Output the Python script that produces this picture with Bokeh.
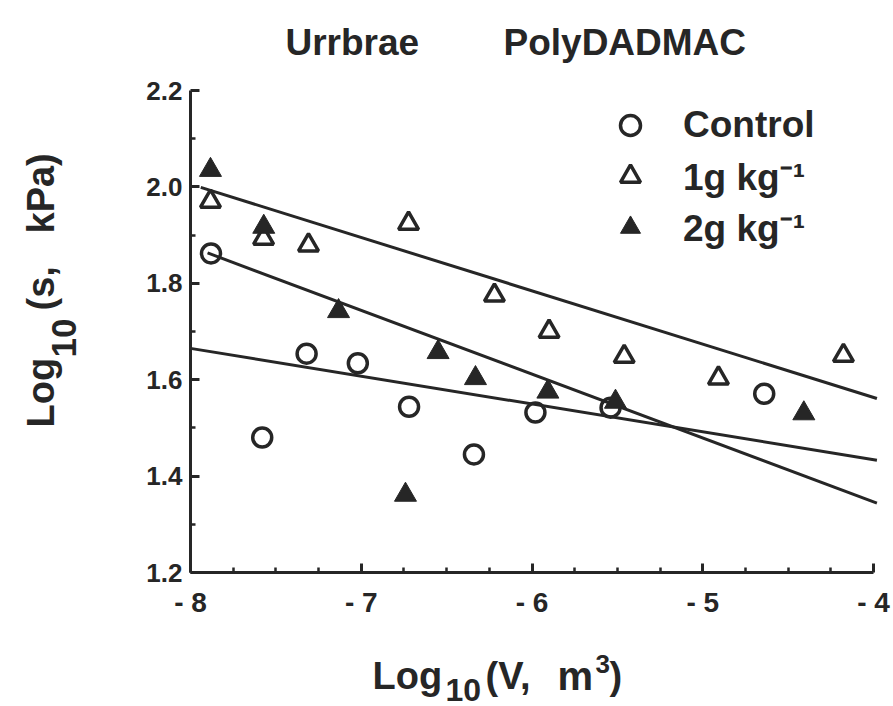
import math
from bokeh.plotting import figure
from bokeh.models import Range1d, FixedTicker, Label, Legend, LegendItem
from bokeh.embed import file_html
from bokeh.resources import INLINE

# ---------------- data ----------------
control_x = [-7.88, -7.58, -7.32, -7.02, -6.72, -6.34, -5.98, -5.54, -4.64]
control_y = [1.862, 1.480, 1.654, 1.634, 1.544, 1.445, 1.532, 1.542, 1.571]

g1_x = [-7.883, -7.572, -7.309, -6.723, -6.22, -5.90, -5.46, -4.908, -4.176]
g1_y = [1.970, 1.893, 1.879, 1.924, 1.775, 1.700, 1.648, 1.603, 1.650]

g2_x = [-7.883, -7.571, -7.133, -6.741, -6.55, -6.331, -5.907, -5.511, -4.408]
g2_y = [2.035, 1.917, 1.742, 1.361, 1.657, 1.603, 1.575, 1.554, 1.530]

# fitted regression lines: start/end x and y
control_fit_x = [-8.0, -3.98]
control_fit_y = [1.665, 1.433]
g1_fit_x = [-7.94, -3.98]
g1_fit_y = [1.999, 1.561]
g2_fit_x = [-7.90, -3.98]
g2_fit_y = [1.863, 1.344]

x_ticks = [-8, -7, -6, -5, -4]
x_tick_labels = ["- 8", "- 7", "- 6", "- 5", "- 4"]
x_minor = [-7.75, -7.5, -7.25, -6.75, -6.5, -6.25, -5.75, -5.5, -5.25, -4.75, -4.5, -4.25]
y_ticks = [1.2, 1.4, 1.6, 1.8, 2.0, 2.2]
y_tick_labels = ["1.2", "1.4", "1.6", "1.8", "2.0", "2.2"]
y_minor = [1.3, 1.5, 1.7, 1.9, 2.1]
x_axis_span = (-8, -4)
y_axis_span = (1.2, 2.2)

legend_labels = ["Control", "1g kg\u207b\u00b9", "2g kg\u207b\u00b9"]

INK = "#262626"
FONT = "Liberation Sans"

W, H = 893, 706
# pixel geometry of the axes box inside the 893x706 canvas
AX_LEFT, AX_RIGHT, AX_TOP, AX_BOTTOM = 190, 873, 90, 572
ppx = (AX_RIGHT - AX_LEFT) / (x_axis_span[1] - x_axis_span[0])
ppy = (AX_BOTTOM - AX_TOP) / (y_axis_span[1] - y_axis_span[0])
x_range = Range1d(x_axis_span[0] - AX_LEFT / ppx, x_axis_span[1] + (W - AX_RIGHT) / ppx)
y_range = Range1d(y_axis_span[0] - (H - AX_BOTTOM) / ppy, y_axis_span[1] + AX_TOP / ppy)

# ---------------- figure ----------------
p = figure(width=W, height=H, output_backend="svg", toolbar_location=None,
           x_range=x_range, y_range=y_range,
           min_border_left=0, min_border_right=0,
           min_border_top=0, min_border_bottom=0)
p.title.visible = False
p.outline_line_color = None
p.xgrid.visible = False
p.ygrid.visible = False
p.background_fill_color = "white"
p.border_fill_color = "white"

p.xaxis.ticker = FixedTicker(ticks=x_ticks, minor_ticks=x_minor)
p.yaxis.ticker = FixedTicker(ticks=y_ticks, minor_ticks=y_minor)
p.xaxis.major_label_overrides = {t: l for t, l in zip(x_ticks, x_tick_labels)}
p.yaxis.major_label_overrides = {t: l for t, l in zip(y_ticks, y_tick_labels)}
p.xaxis.fixed_location = y_axis_span[0]
p.yaxis.fixed_location = x_axis_span[0]
p.xaxis.bounds = x_axis_span
p.yaxis.bounds = y_axis_span

for ax in (p.xaxis[0], p.yaxis[0]):
    ax.axis_line_color = INK
    ax.axis_line_width = 3
    ax.major_tick_line_color = INK
    ax.major_tick_line_width = 3
    ax.minor_tick_line_color = INK
    ax.minor_tick_line_width = 2.5
    ax.major_tick_in = 9
    ax.major_tick_out = 0
    ax.minor_tick_in = 5
    ax.minor_tick_out = 0
    ax.major_label_text_font = FONT
    ax.major_label_text_font_style = "bold"
    ax.major_label_text_color = INK
p.xaxis.major_label_text_font_size = "28px"
p.xaxis.major_label_standoff = 14
p.yaxis.major_label_text_font_size = "26px"
p.yaxis.major_label_standoff = 8

# ---------------- fitted lines ----------------
p.line(control_fit_x, control_fit_y, line_color=INK, line_width=3)
p.line(g1_fit_x, g1_fit_y, line_color=INK, line_width=3)
p.line(g2_fit_x, g2_fit_y, line_color=INK, line_width=3)

# ---------------- points ----------------
r_c = p.scatter(control_x, control_y, marker="circle", size=19,
                fill_color=None, line_color=INK, line_width=3.5)
r_1 = p.scatter(g1_x, g1_y, marker="triangle", size=20,
                fill_color=None, line_color=INK, line_width=3.5)
r_2 = p.scatter(g2_x, g2_y, marker="triangle", size=22,
                fill_color=INK, line_color=INK, line_width=1)

legend = Legend(items=[LegendItem(label=legend_labels[0], renderers=[r_c]),
                       LegendItem(label=legend_labels[1], renderers=[r_1]),
                       LegendItem(label=legend_labels[2], renderers=[r_2])],
                location=(605, 454), glyph_width=50, glyph_height=50,
                label_standoff=28, padding=0, margin=0, spacing=0,
                border_line_color=None, background_fill_alpha=0,
                label_text_font=FONT, label_text_font_style="bold",
                label_text_font_size="37px", label_text_color=INK)
p.add_layout(legend)

# ---------------- texts (screen units, origin at canvas bottom-left) ----------------
def lab(text, x, y, size, angle=0.0):
    p.add_layout(Label(x=x, y=y, x_units="screen", y_units="screen", text=text,
                       angle=angle, text_font=FONT, text_font_style="bold",
                       text_font_size=size, text_color=INK,
                       text_align="left", text_baseline="alphabetic"))

# title
lab("Urrbrae", 285, 664, "37px")
lab("PolyDADMAC", 503, 664, "37px")

# x-axis label  Log10(V, m3)
lab("Log", 372, 31, "38px")
lab("10", 445, 17, "32px")
lab("(V,", 485, 31, "38px")
lab("m", 557, 31, "40px")
lab("3", 595, 43, "26px")
lab(")", 609, 31, "38px")

# y-axis label  Log10(s, kPa)
A = math.pi / 2
lab("Log", 40, 279, "38px", A)
lab("10", 63, 349, "35px", A)
lab("(s,", 40, 396, "38px", A)
lab("kPa)", 40, 473, "38px", A)

open("out.html", "w").write(file_html(p, INLINE))
